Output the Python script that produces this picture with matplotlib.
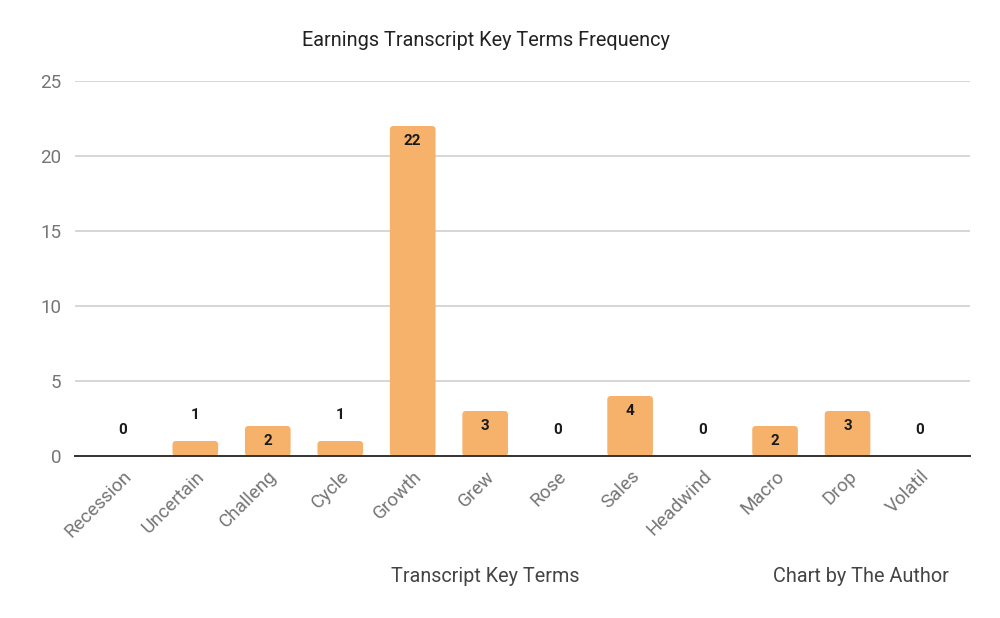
import matplotlib
matplotlib.use("Agg")
import matplotlib.pyplot as plt
from matplotlib.patches import FancyBboxPatch

categories = ["Recession", "Uncertain", "Challeng", "Cycle", "Growth", "Grew",
              "Rose", "Sales", "Headwind", "Macro", "Drop", "Volatil"]
values = [0, 1, 2, 1, 22, 3, 0, 4, 0, 2, 3, 0]
yticks = [0, 5, 10, 15, 20, 25]

plt.rcParams['font.family'] = ['Roboto', 'DejaVu Sans']

fig = plt.figure(figsize=(10, 6.18), dpi=100)
ax = fig.add_axes([0.075, 1 - 456 / 618, 0.895, (456 - 81) / 618])

x = list(range(len(categories)))
bw = 0.63
bars = ax.bar(x, values, width=bw, color="#F6B26B", zorder=3)
# rounded corner look
for b in bars:
    b.set_visible(False)
    h = b.get_height()
    if h > 0:
        p = FancyBboxPatch((b.get_x(), 0), b.get_width(), h,
                           boxstyle="round,pad=0,rounding_size=0.05",
                           mutation_aspect=72.5 / 15,
                           facecolor="#F6B26B", edgecolor="none", zorder=3)
        ax.add_patch(p)

for xi, v in zip(x, values):
    if v >= 2:
        ax.annotate(str(v), (xi, v), xytext=(0, -15), textcoords="offset pixels",
                    ha="center", va="center", fontsize=11, fontweight="bold",
                    color="#1a1a1a", zorder=4)
    else:
        ax.annotate(str(v), (xi, v), xytext=(0, 26), textcoords="offset pixels",
                    ha="center", va="center", fontsize=11, fontweight="bold",
                    color="#1a1a1a", zorder=4)

ax.set_xlim(-0.66, 11.69)
ax.set_ylim(0, 25)
ax.set_yticks(yticks)
ax.set_yticklabels([str(t) for t in yticks], fontsize=13.5, color="#757575")
ax.set_xticks(x)
ax.set_xticklabels(categories, rotation=45, ha="right", va="top",
                   rotation_mode="anchor", fontsize=13.5, color="#757575")
ax.tick_params(axis="both", length=0)
ax.tick_params(axis="y", pad=10)
ax.tick_params(axis="x", pad=8)
ax.grid(axis="y", color="#cccccc", linewidth=1.1, zorder=0)
ax.set_axisbelow(True)
for s in ["top", "right", "left"]:
    ax.spines[s].set_visible(False)
ax.spines["bottom"].set_color("#333333")
ax.spines["bottom"].set_linewidth(1.4)
ax.spines["bottom"].set_zorder(5)

fig.text(0.486, 1 - 40 / 618, "Earnings Transcript Key Terms Frequency",
         ha="center", va="center", fontsize=14.3, color="#222222")
fig.text(0.485, 1 - 577 / 618, "Transcript Key Terms",
         ha="center", va="center", fontsize=14.2, color="#444444")
fig.text(0.861, 1 - 577 / 618, "Chart by The Author",
         ha="center", va="center", fontsize=14.3, color="#444444")

fig.savefig("out.png", dpi=100, facecolor="white")
